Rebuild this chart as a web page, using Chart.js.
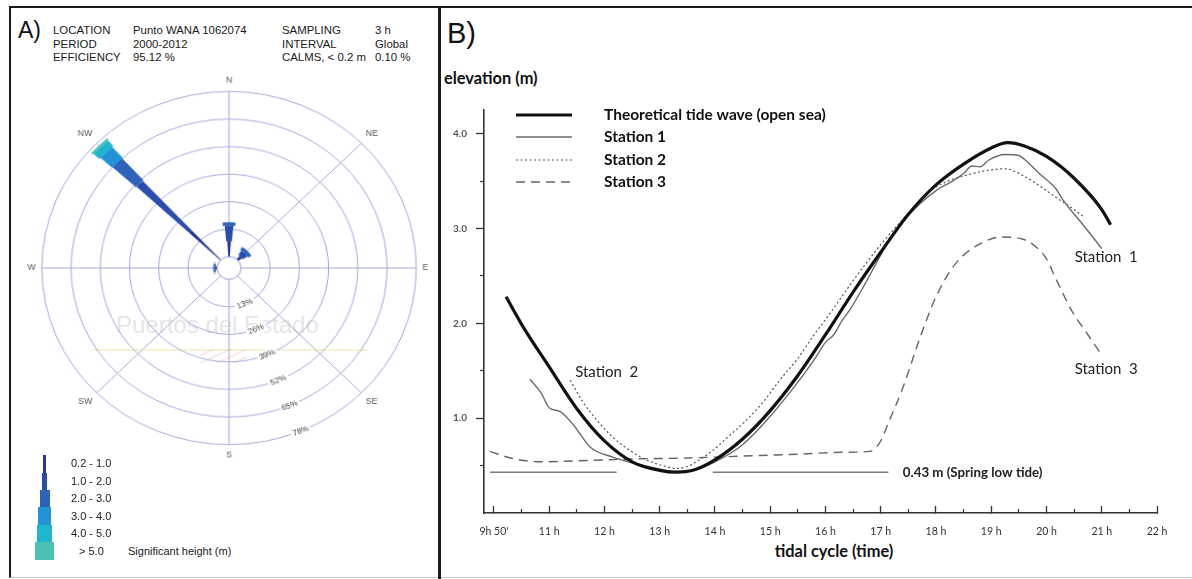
<!DOCTYPE html>
<html>
<head>
<meta charset="utf-8">
<script src="https://cdn.jsdelivr.net/npm/chart.js@4.4.1/dist/chart.umd.min.js"></script>
<style>
html,body{margin:0;padding:0;background:#fff;}
#fig{position:relative;width:1192px;height:579px;overflow:hidden;background:#fff;font-family:"Liberation Sans",Arial,sans-serif;color:#111;}
.t{position:absolute;line-height:1;white-space:nowrap;transform:translateY(-50%);}
.hd{font-size:11.4px;color:#1a1a1a;}
.lg{font-size:11px;color:#222;}
.sw{position:absolute;}
canvas{position:absolute;}
</style>
</head>
<body>
<div id="fig">
  <!-- frame -->
  <div style="position:absolute;left:9px;top:6px;width:1183px;height:572px;border-top:2px solid #1a1a1a;border-left:2px solid #1a1a1a;border-bottom:1px solid #c8c8c8;box-sizing:border-box;"></div>
  <div style="position:absolute;left:438px;top:6px;width:3px;height:573px;background:#1a1a1a;"></div>

  <!-- panel A header -->
  <div class="t" style="left:18px;top:30px;font-size:23px;">A)</div>
  <div class="t hd" style="left:53px;top:31px;">LOCATION</div>
  <div class="t hd" style="left:53px;top:44.5px;">PERIOD</div>
  <div class="t hd" style="left:53px;top:58px;">EFFICIENCY</div>
  <div class="t hd" style="left:133px;top:31px;">Punto WANA 1062074</div>
  <div class="t hd" style="left:133px;top:44.5px;">2000-2012</div>
  <div class="t hd" style="left:133px;top:58px;">95.12 %</div>
  <div class="t hd" style="left:282px;top:31px;">SAMPLING</div>
  <div class="t hd" style="left:282px;top:44.5px;">INTERVAL</div>
  <div class="t hd" style="left:282px;top:58px;">CALMS, &lt; 0.2 m</div>
  <div class="t hd" style="left:375px;top:31px;">3 h</div>
  <div class="t hd" style="left:375px;top:44.5px;">Global</div>
  <div class="t hd" style="left:375px;top:58px;">0.10 %</div>

  <!-- watermark -->
  <div class="t" style="left:116px;top:325px;font-size:24px;color:#e6e6e6;">Puertos del Estado</div>
  <div style="position:absolute;left:92px;top:349px;width:275px;height:2px;background:#f8f1d2;"></div>
  <div style="position:absolute;left:200px;top:349px;width:46px;height:14px;background:repeating-linear-gradient(155deg,rgba(255,255,255,0) 0 5px,rgba(240,170,170,0.25) 5px 7px);"></div>

  <canvas id="rose" width="396" height="396" style="left:30px;top:70px;transform:scale(1.03,0.971);transform-origin:198px 198px;"></canvas>

  <!-- rose legend -->
  <div class="sw" style="left:43.2px;top:455px;width:2.7px;height:18px;background:#25389a;"></div>
  <div class="sw" style="left:41.7px;top:473px;width:5.5px;height:17px;background:#2a4cae;"></div>
  <div class="sw" style="left:39.5px;top:490px;width:10px;height:17px;background:#2d63bb;"></div>
  <div class="sw" style="left:38.2px;top:507px;width:12.7px;height:18px;background:#2193d6;"></div>
  <div class="sw" style="left:36.7px;top:525px;width:15.7px;height:17px;background:#1fb5cc;"></div>
  <div class="sw" style="left:35.2px;top:542px;width:18.7px;height:18px;background:#4cc1b3;"></div>
  <div class="t lg" style="left:71px;top:462.7px;">0.2 - 1.0</div>
  <div class="t lg" style="left:71px;top:480.7px;">1.0 - 2.0</div>
  <div class="t lg" style="left:71px;top:497.7px;">2.0 - 3.0</div>
  <div class="t lg" style="left:71px;top:516px;">3.0 - 4.0</div>
  <div class="t lg" style="left:71px;top:533px;">4.0 - 5.0</div>
  <div class="t lg" style="left:79px;top:551px;">&gt; 5.0</div>
  <div class="t lg" style="left:128px;top:551px;">Significant height (m)</div>

  <!-- panel B texts -->
  <div class="t" style="left:447px;top:32.5px;font-size:29px;">B)</div>
  <div class="t" style="left:444px;top:78px;font-family:Lato,sans-serif;font-weight:bold;font-size:16.4px;">elevation (m)</div>
  <div class="t" style="left:834px;top:551px;font-family:Lato,sans-serif;font-weight:bold;font-size:16.4px;transform:translate(-50%,-50%);">tidal cycle (time)</div>

  <canvas id="tide" width="751" height="579" style="left:441px;top:0px;"></canvas>
</div>

<script>
// ---------------- Panel A : wave rose data ----------------
const directions = ['N', 'NE', 'E', 'SE', 'S', 'SW', 'W', 'NW'];
const heightClasses = ['0.2 - 1.0', '1.0 - 2.0', '2.0 - 3.0', '3.0 - 4.0', '4.0 - 5.0', '> 5.0'];
// frequency (%) of each significant-height class, per direction (same order as directions)
const freq_02_10 = [7.3, 2.1, 0, 0, 0, 0, 0.8, 19];
const freq_10_20 = [7.4, 2.5, 0, 0, 0, 0, 0.6, 32];
const freq_20_30 = [1.6, 1.6, 0, 0, 0, 0, 0.4, 14];
const freq_30_40 = [0, 0, 0, 0, 0, 0, 0, 7];
const freq_40_50 = [0, 0, 0, 0, 0, 0, 0, 3.5];
const freq_gt_50 = [0, 0, 0, 0, 0, 0, 0, 1];
const ringTicks = [13, 26, 39, 52, 65, 78];

// styles
const classColors = ['#25389a', '#2a4cae', '#2d63bb', '#2193d6', '#1fb5cc', '#4cc1b3'];
const classWidthPx = [3.5, 8.5, 13, 16, 20, 22];
const gridColor = '#a4a7dc';

const classFreqs = [freq_02_10, freq_10_20, freq_20_30, freq_30_40, freq_40_50, freq_gt_50];
const cumulative = [];
classFreqs.forEach((arr, k) => {
  cumulative.push(arr.map((v, i) => (k === 0 ? 0 : cumulative[k - 1][i]) + v));
});

const roseGeometry = {
  id: 'roseGeometry',
  afterUpdate(chart) {
    const sc = chart.scales.r;
    chart.data.datasets.forEach((ds, k) => {
      const meta = chart.getDatasetMeta(k);
      meta.data.forEach((arc, i) => {
        const inner = k === 0 ? 0 : cumulative[k - 1][i];
        const outer = cumulative[k][i];
        const rIn = sc.getDistanceFromCenterForValue(inner);
        const rOut = sc.getDistanceFromCenterForValue(outer);
        const a = sc.getIndexAngle(i) - Math.PI / 2;
        const half = outer > inner ? (classWidthPx[k] / 2) / rOut : 0;
        arc.x = sc.xCenter; arc.y = sc.yCenter;
        arc.innerRadius = rIn; arc.outerRadius = rOut;
        arc.startAngle = a - half; arc.endAngle = a + half;
        arc.circumference = 2 * half;
      });
    });
  },
  afterDatasetsDraw(chart) {
    const sc = chart.scales.r;
    const ctx = chart.ctx;
    const cx = sc.xCenter, cy = sc.yCenter;
    ctx.save();
    // central hole
    const r0 = sc.getDistanceFromCenterForValue(0);
    ctx.beginPath();
    ctx.arc(cx, cy, r0, 0, Math.PI * 2);
    ctx.fillStyle = '#fff';
    ctx.fill();
    ctx.lineWidth = 1;
    ctx.strokeStyle = gridColor;
    ctx.stroke();
    // ring labels along the SSE bearing
    const bearing = 157.5 * Math.PI / 180;
    const dirA = bearing - Math.PI / 2;
    ctx.font = '8px "Liberation Sans", Arial, sans-serif';
    ctx.textAlign = 'center';
    ctx.textBaseline = 'middle';
    ringTicks.forEach(v => {
      const r = sc.getDistanceFromCenterForValue(v);
      const px = cx + r * Math.cos(dirA), py = cy + r * Math.sin(dirA);
      ctx.save();
      ctx.translate(px, py);
      ctx.rotate(dirA - Math.PI / 2);
      const label = v + '%';
      const w = ctx.measureText(label).width;
      ctx.fillStyle = '#fff';
      ctx.fillRect(-w / 2 - 2, -5, w + 4, 10);
      ctx.fillStyle = '#444';
      ctx.fillText(label, 0, 0);
      ctx.restore();
    });
    ctx.restore();
  }
};

new Chart(document.getElementById('rose'), {
  type: 'polarArea',
  data: {
    labels: directions,
    datasets: heightClasses.map((c, k) => ({
      label: c,
      data: cumulative[k],
      backgroundColor: classColors[k],
      borderWidth: 0
    }))
  },
  options: {
    responsive: false,
    animation: false,
    events: [],
    layout: { padding: 0 },
    plugins: { legend: { display: false }, tooltip: { enabled: false } },
    scales: {
      r: {
        min: -5.3,
        max: 78,
        beginAtZero: false,
        startAngle: 0,
        afterBuildTicks: s => { s.ticks = [0].concat(ringTicks).map(v => ({ value: v })); },
        ticks: { display: false },
        grid: { circular: true, color: gridColor, lineWidth: 1 },
        angleLines: { display: true, color: gridColor, lineWidth: 1 },
        pointLabels: {
          display: true,
          padding: 6,
          color: '#555',
          font: { family: 'Liberation Sans', size: 8.5 }
        }
      }
    }
  },
  plugins: [roseGeometry]
});

// ---------------- Panel B : tide curves ----------------
const theoTime = [10.22, 10.5, 11.0, 11.5, 12.0, 12.5, 13.0, 13.3, 13.6, 14.0, 14.5, 15.0, 15.5, 16.0, 16.5, 17.0, 17.5, 18.0, 18.5, 19.0, 19.3, 19.6, 20.0, 20.5, 21.0, 21.16];
const theoElev = [2.28, 1.99, 1.54, 1.10, 0.76, 0.54, 0.45, 0.43, 0.45, 0.56, 0.78, 1.08, 1.45, 1.88, 2.33, 2.75, 3.15, 3.46, 3.68, 3.85, 3.905, 3.87, 3.76, 3.53, 3.20, 3.04];

const st1Time = [10.65, 10.85, 11.0, 11.2, 11.45, 11.75, 12.15, 12.5, 12.8, 13.1, 13.3, 13.6, 14.0, 14.5, 15.0, 15.5, 15.8, 16.0, 16.15, 16.3, 16.45, 16.7, 17.0, 17.2, 17.5, 18.0, 18.3, 18.5, 18.65, 18.8, 18.95, 19.25, 19.5, 19.6, 19.87, 20.17, 20.3, 20.66, 21.0];
const st1Elev = [1.41, 1.27, 1.11, 1.07, 0.92, 0.69, 0.59, 0.53, 0.49, 0.45, 0.44, 0.45, 0.54, 0.72, 1.02, 1.38, 1.62, 1.80, 1.88, 2.03, 2.15, 2.40, 2.72, 2.92, 3.14, 3.40, 3.50, 3.58, 3.66, 3.65, 3.72, 3.78, 3.77, 3.73, 3.58, 3.42, 3.30, 3.04, 2.79];

const st2Time = [11.38, 11.6, 11.86, 12.15, 12.46, 12.76, 13.05, 13.3, 13.5, 13.66, 13.96, 14.25, 14.57, 14.9, 15.17, 15.5, 15.77, 16.1, 16.5, 17.0, 17.5, 17.9, 18.3, 18.6, 18.9, 19.26, 19.57, 19.9, 20.17, 20.4, 20.66];
const st2Elev = [1.40, 1.18, 0.98, 0.80, 0.66, 0.56, 0.50, 0.47, 0.49, 0.54, 0.66, 0.81, 0.98, 1.19, 1.40, 1.63, 1.86, 2.12, 2.45, 2.83, 3.16, 3.40, 3.52, 3.57, 3.61, 3.63, 3.56, 3.44, 3.33, 3.24, 3.13];

const st3Time = [9.93, 10.3, 10.83, 11.5, 12.5, 13.5, 14.5, 15.5, 16.3, 16.8, 16.98, 17.16, 17.4, 17.73, 18.0, 18.34, 18.77, 19.19, 19.56, 19.8, 20.0, 20.17, 20.48, 20.75, 20.97];
const st3Elev = [0.65, 0.58, 0.54, 0.55, 0.57, 0.58, 0.60, 0.62, 0.64, 0.65, 0.74, 0.98, 1.32, 1.88, 2.28, 2.62, 2.83, 2.91, 2.89, 2.81, 2.68, 2.47, 2.11, 1.88, 1.69];

const lowTideLevel = 0.43;
const lowTideSegA = [9.93, 12.22];
const lowTideSegB = [13.96, 17.14];

const hourTicks = [10, 11, 12, 13, 14, 15, 16, 17, 18, 19, 20, 21, 22];
const hourLabels = ["9h 50'", '11 h', '12 h', '13 h', '14 h', '15 h', '16 h', '17 h', '18 h', '19 h', '20 h', '21 h', '22 h'];
const halfHourTicks = [10.5, 11.5, 12.5, 13.5, 14.5, 15.5, 16.5, 17.5, 18.5, 19.5, 20.5, 21.5];
const elevTicks = [1, 2, 3, 4];
const elevLabels = ['1.0', '2.0', '3.0', '4.0'];
const halfElevTicks = [0.5, 1.5, 2.5, 3.5];

const seriesNames = ['Theoretical tide wave (open sea)', 'Station 1', 'Station 2', 'Station 3'];

const zip = (xs, ys) => xs.map((x, i) => ({ x, y: ys[i] }));

const lineStyles = [
  { color: '#111', width: 3.2, dash: [] },
  { color: '#6b6b6b', width: 1.4, dash: [] },
  { color: '#555', width: 1.2, dash: [2, 2.5] },
  { color: '#666', width: 1.4, dash: [9, 6] }
];

const tideDecor = {
  id: 'tideDecor',
  afterDatasetsDraw(chart, args, opts) {
    const { ctx, scales: { x, y } } = chart;
    ctx.save();
    // legend
    opts.legendRows.forEach((ry, i) => {
      const st = lineStyles[i];
      ctx.beginPath();
      ctx.setLineDash(st.dash);
      ctx.lineWidth = st.width;
      ctx.strokeStyle = st.color;
      ctx.moveTo(opts.legendX0, ry);
      ctx.lineTo(opts.legendX1, ry);
      ctx.stroke();
      ctx.setLineDash([]);
      ctx.fillStyle = '#111';
      ctx.font = 'bold 15.5px Lato, sans-serif';
      ctx.textAlign = 'left';
      ctx.textBaseline = 'middle';
      ctx.fillText(seriesNames[i], opts.legendTextX, ry);
    });
    // annotations in data coordinates
    opts.notes.forEach(n => {
      ctx.font = n.font;
      ctx.fillStyle = '#222';
      ctx.textAlign = 'left';
      ctx.textBaseline = 'middle';
      ctx.fillText(n.text, x.getPixelForValue(n.x), y.getPixelForValue(n.y));
    });
    ctx.restore();
  }
};

new Chart(document.getElementById('tide'), {
  type: 'line',
  data: {
    datasets: [
      { label: seriesNames[0], data: zip(theoTime, theoElev) },
      { label: seriesNames[1], data: zip(st1Time, st1Elev) },
      { label: seriesNames[2], data: zip(st2Time, st2Elev) },
      { label: seriesNames[3], data: zip(st3Time, st3Elev) }
    ].map((d, i) => Object.assign(d, {
      borderColor: lineStyles[i].color,
      borderWidth: lineStyles[i].width,
      borderDash: lineStyles[i].dash,
      pointRadius: 0,
      fill: false,
      tension: 0.4,
      cubicInterpolationMode: 'monotone',
      xAxisID: 'x', yAxisID: 'y'
    })).concat([
      { label: 'low A', data: lowTideSegA.map(v => ({ x: v, y: lowTideLevel })), borderColor: '#7a7a7a', borderWidth: 1.6, pointRadius: 0, xAxisID: 'x', yAxisID: 'y' },
      { label: 'low B', data: lowTideSegB.map(v => ({ x: v, y: lowTideLevel })), borderColor: '#7a7a7a', borderWidth: 1.6, pointRadius: 0, xAxisID: 'x', yAxisID: 'y' }
    ])
  },
  options: {
    responsive: false,
    animation: false,
    events: [],
    parsing: false,
    layout: { padding: { top: 110, right: 35, left: 0, bottom: 0 } },
    plugins: {
      legend: { display: false },
      tooltip: { enabled: false },
      tideDecor: {
        legendRows: [115, 137, 160, 182],
        legendX0: 75, legendX1: 131, legendTextX: 163,
        notes: [
          { text: 'Station  1', x: 20.51, y: 2.70, font: '15px Lato, sans-serif' },
          { text: 'Station  3', x: 20.51, y: 1.52, font: '15px Lato, sans-serif' },
          { text: 'Station  2', x: 11.47, y: 1.49, font: '15px Lato, sans-serif' },
          { text: '0.43 m (Spring low tide)', x: 17.40, y: 0.43, font: 'bold 13.3px Lato, sans-serif' }
        ]
      }
    },
    scales: {
      x: {
        type: 'linear', position: 'bottom', weight: 1, min: 9.82, max: 22,
        afterBuildTicks: s => { s.ticks = hourTicks.map(v => ({ value: v })); },
        afterFit: s => { s.height = 66; },
        ticks: {
          autoSkip: false, maxRotation: 0, padding: 19, color: '#333',
          font: { family: 'Lato', size: 10.5 },
          callback: v => hourLabels[hourTicks.indexOf(v)]
        },
        grid: { drawOnChartArea: false, tickLength: -7, tickColor: '#333', tickWidth: 1.3 },
        border: { display: true, color: '#333', width: 1.6 }
      },
      x2: {
        type: 'linear', position: 'bottom', weight: 0, min: 9.82, max: 22,
        afterBuildTicks: s => { s.ticks = halfHourTicks.map(v => ({ value: v })); },
        afterFit: s => { s.height = 0; },
        ticks: { display: false },
        grid: { drawOnChartArea: false, tickLength: -4, tickColor: '#333', tickWidth: 1.2 },
        border: { display: false }
      },
      y: {
        type: 'linear', position: 'left', weight: 1, min: 0, max: 4.25,
        afterBuildTicks: s => { s.ticks = elevTicks.map(v => ({ value: v })); },
        afterFit: s => { s.width = 43; },
        ticks: {
          padding: 9, color: '#555',
          font: { family: 'Lato', size: 10, weight: 'bold' },
          callback: v => elevLabels[elevTicks.indexOf(v)]
        },
        grid: { drawOnChartArea: false, tickLength: 8, tickColor: '#333', tickWidth: 1.3 },
        border: { display: true, color: '#333', width: 1.6 }
      },
      y2: {
        type: 'linear', position: 'left', weight: 0, min: 0, max: 4.25,
        afterBuildTicks: s => { s.ticks = halfElevTicks.map(v => ({ value: v })); },
        afterFit: s => { s.width = 0; },
        ticks: { display: false },
        grid: { drawOnChartArea: false, tickLength: 4, tickColor: '#333', tickWidth: 1.2 },
        border: { display: false }
      }
    }
  },
  plugins: [tideDecor]
});
</script>
</body>
</html>
